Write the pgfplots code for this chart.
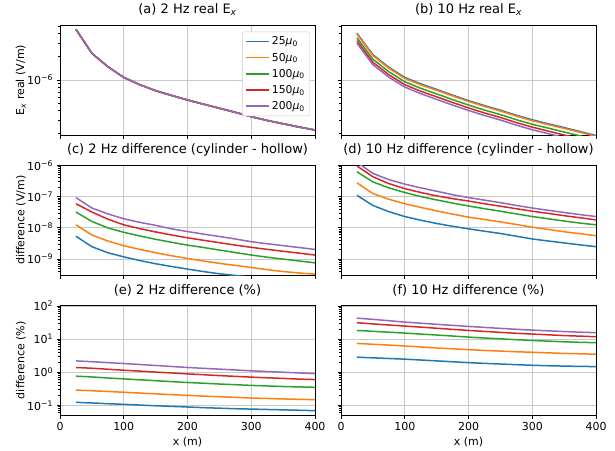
\documentclass[border=0pt]{standalone}
\usepackage{fontspec}
\setmainfont{DejaVu Sans}
\usepackage{pgfplots}
\usepackage{pgfplotstable}
\pgfplotsset{compat=1.18}

\definecolor{c0}{HTML}{1F77B4}
\definecolor{c1}{HTML}{FF7F0E}
\definecolor{c2}{HTML}{2CA02C}
\definecolor{c3}{HTML}{D62728}
\definecolor{c4}{HTML}{9467BD}
\definecolor{gridgray}{HTML}{C8C8C8}

% 2 Hz real Ex (all permeabilities overlap)
\pgfplotstableread{
x v
25 4.55e-6
50 2.22e-6
75 1.49e-6
100 1.08e-6
125 8.7e-7
150 7.26e-7
175 6.3e-7
200 5.5e-7
225 4.85e-7
250 4.3e-7
275 3.8e-7
300 3.34e-7
325 2.98e-7
350 2.7e-7
375 2.45e-7
400 2.24e-7
}\realA

% 10 Hz real Ex
\pgfplotstableread{
x m25 m50 m100 m150 m200
25 4.05e-6 3.95e-6 3.54e-6 3.24e-6 3.0e-6
50 2.13e-6 2.07e-6 1.86e-6 1.7e-6 1.58e-6
75 1.46e-6 1.42e-6 1.28e-6 1.17e-6 1.09e-6
100 1.08e-6 1.05e-6 9.5e-7 8.7e-7 8.1e-7
125 8.9e-7 8.65e-7 7.8e-7 7.15e-7 6.65e-7
150 7.55e-7 7.35e-7 6.6e-7 6.05e-7 5.6e-7
175 6.35e-7 6.2e-7 5.56e-7 5.1e-7 4.72e-7
200 5.4e-7 5.27e-7 4.73e-7 4.34e-7 4.02e-7
225 4.65e-7 4.53e-7 4.07e-7 3.73e-7 3.46e-7
250 4.05e-7 3.95e-7 3.55e-7 3.26e-7 3.02e-7
275 3.48e-7 3.4e-7 3.05e-7 2.8e-7 2.59e-7
300 3.04e-7 2.96e-7 2.66e-7 2.44e-7 2.26e-7
325 2.7e-7 2.63e-7 2.37e-7 2.17e-7 2.01e-7
350 2.41e-7 2.35e-7 2.11e-7 1.93e-7 1.79e-7
375 2.14e-7 2.09e-7 1.88e-7 1.72e-7 1.6e-7
400 1.9e-7 1.85e-7 1.66e-7 1.52e-7 1.41e-7
}\realB

% 2 Hz difference (V/m)
\pgfplotstableread{
x m25 m50 m100 m150 m200
25 5.4e-9 1.25e-8 3.2e-8 5.9e-8 9.3e-8
50 2.5e-9 5.9e-9 1.6e-8 3.2e-8 4.3e-8
75 1.6e-9 3.8e-9 1.0e-8 1.9e-8 2.8e-8
100 1.18e-9 2.68e-9 7.2e-9 1.25e-8 1.95e-8
125 9.0e-10 2.05e-9 5.5e-9 9.4e-9 1.5e-8
150 7.1e-10 1.6e-9 4.3e-9 7.4e-9 1.2e-8
175 5.8e-10 1.28e-9 3.45e-9 5.9e-9 9.3e-9
200 4.8e-10 1.05e-9 2.8e-9 4.8e-9 7.6e-9
225 4.0e-10 8.7e-10 2.35e-9 4.0e-9 6.3e-9
250 3.4e-10 7.3e-10 1.95e-9 3.35e-9 5.3e-9
275 3.0e-10 6.3e-10 1.62e-9 2.8e-9 4.4e-9
300 2.65e-10 5.4e-10 1.35e-9 2.38e-9 3.6e-9
325 2.35e-10 4.6e-10 1.15e-9 2.05e-9 3.1e-9
350 2.1e-10 4.0e-10 1.0e-9 1.78e-9 2.7e-9
375 1.9e-10 3.6e-10 8.7e-10 1.55e-9 2.35e-9
400 1.7e-10 3.3e-10 7.6e-10 1.35e-9 2.04e-9
}\diffC

% 10 Hz difference (V/m)
\pgfplotstableread{
x m25 m50 m100 m150 m200
25 1.1e-7 2.75e-7 6.2e-7 9.5e-7 1.25e-6
50 5.2e-8 1.25e-7 2.95e-7 4.3e-7 5.5e-7
75 3.3e-8 8.2e-8 1.9e-7 2.6e-7 3.5e-7
100 2.3e-8 5.9e-8 1.35e-7 1.8e-7 2.5e-7
125 1.75e-8 4.5e-8 1.0e-7 1.35e-7 1.9e-7
150 1.38e-8 3.5e-8 7.8e-8 1.05e-7 1.48e-7
175 1.12e-8 2.75e-8 6.2e-8 8.6e-8 1.15e-7
200 9.3e-9 2.2e-8 5.0e-8 7.2e-8 9.3e-8
225 7.8e-9 1.85e-8 4.1e-8 5.9e-8 7.7e-8
250 6.6e-9 1.55e-8 3.4e-8 4.9e-8 6.4e-8
275 5.4e-9 1.28e-8 2.8e-8 4.1e-8 5.2e-8
300 4.4e-9 1.05e-8 2.3e-8 3.4e-8 4.3e-8
325 3.8e-9 8.9e-9 1.95e-8 2.9e-8 3.65e-8
350 3.3e-9 7.5e-9 1.65e-8 2.45e-8 3.1e-8
375 2.85e-9 6.5e-9 1.42e-8 2.1e-8 2.65e-8
400 2.5e-9 5.6e-9 1.25e-8 1.8e-8 2.3e-8
}\diffD

% 2 Hz difference (%)
\pgfplotstableread{
x m25 m50 m100 m150 m200
25 0.123 0.29 0.76 1.39 2.2
50 0.118 0.276 0.72 1.32 2.08
75 0.112 0.262 0.67 1.23 1.95
100 0.107 0.248 0.63 1.15 1.83
125 0.102 0.235 0.59 1.08 1.71
150 0.097 0.222 0.555 1.01 1.6
175 0.093 0.21 0.52 0.95 1.49
200 0.089 0.20 0.49 0.89 1.39
225 0.085 0.19 0.465 0.84 1.31
250 0.082 0.182 0.44 0.79 1.24
275 0.079 0.174 0.42 0.75 1.17
300 0.077 0.166 0.40 0.71 1.1
325 0.075 0.161 0.385 0.68 1.05
350 0.073 0.156 0.37 0.65 1.0
375 0.071 0.152 0.36 0.62 0.95
400 0.069 0.148 0.35 0.60 0.91
}\pctE

% 10 Hz difference (%)
\pgfplotstableread{
x m25 m50 m100 m150 m200
25 2.85 7.4 18.3 31.3 43
50 2.72 7.0 17.2 28.8 39.5
75 2.6 6.6 16.2 26.7 36
100 2.48 6.2 15.2 24.8 32.7
125 2.34 5.8 14.2 23 30.3
150 2.2 5.4 13.3 21.3 28
175 2.07 5.1 12.4 19.7 26
200 1.95 4.8 11.5 18.3 24.2
225 1.85 4.55 10.8 17.1 22.6
250 1.77 4.35 10.2 16 21.1
275 1.69 4.15 9.6 15 19.8
300 1.62 4.0 9.1 14.2 18.7
325 1.57 3.85 8.7 13.5 17.8
350 1.53 3.7 8.3 12.8 16.9
375 1.5 3.6 8.0 12.3 16.2
400 1.48 3.5 7.8 11.8 15.6
}\pctF

% shared look of all six panels (plain axis keys only)
\pgfplotsset{
  every axis/.append style={
    width=255pt, height=109.7pt, scale only axis,
    xmin=0, xmax=400,
    xtick={0,100,200,300,400},
    grid=major, grid style={draw=gridgray, line width=0.8pt},
    axis line style={line width=0.8pt},
    tick align=outside, tick pos=left,
    major tick length=3.5pt, minor tick length=2pt,
    tick style={black, line width=0.7pt},
    tick label style={font=\fontsize{11}{13}\selectfont},
    every axis label/.append style={font=\fontsize{11}{13}\selectfont},
    every axis title/.append style={font=\fontsize{13}{15.6}\selectfont},
    every axis y label/.append style={at={(axis description cs:-0.12,0.5)}, anchor=south},
  },
}

\begin{document}
\begin{tikzpicture}
\path (0,0) rectangle (615pt,-445pt);

% (a)
\begin{axis}[ymode=log, anchor=north west, at={(60pt,-25.3pt)},
  ymin=1.93e-7, ymax=5.13e-6, ytick={1e-6},
  minor ytick={2e-7,3e-7,4e-7,5e-7,6e-7,7e-7,8e-7,9e-7,2e-6,3e-6,4e-6,5e-6},
  xticklabels={},
  title={(a) 2 Hz real E\textsubscript{\itshape x}},
  ylabel={E\textsubscript{\itshape x} real (V/m)},
  yticklabels={10\textsuperscript{−6}},
  legend cell align=left,
  legend style={at={(0.98,0.942)}, anchor=north east,
    draw=black!20, fill=white, rounded corners=2pt,
    inner xsep=3pt, inner ysep=3pt, row sep=2.6pt,
    font=\fontsize{10.8}{13}\selectfont},
  legend image code/.code={\draw[#1, line width=1.5pt] (0pt,0pt) -- (23pt,0pt);},
]
\addplot[c0, line width=1.5pt] table[x=x, y=v] {\realA};
\addplot[c1, line width=1.5pt] table[x=x, y=v] {\realA};
\addplot[c2, line width=1.5pt] table[x=x, y=v] {\realA};
\addplot[c3, line width=1.5pt] table[x=x, y=v] {\realA};
\addplot[c4, line width=1.5pt] table[x=x, y=v] {\realA};
\legend{25\textit{μ}\textsubscript{0}, 50\textit{μ}\textsubscript{0}, 100\textit{μ}\textsubscript{0}, 150\textit{μ}\textsubscript{0}, 200\textit{μ}\textsubscript{0}}
\end{axis}

% (b)
\begin{axis}[ymode=log, anchor=north west, at={(341pt,-25.3pt)},
  ymin=1.93e-7, ymax=5.13e-6, ytick={1e-6},
  minor ytick={2e-7,3e-7,4e-7,5e-7,6e-7,7e-7,8e-7,9e-7,2e-6,3e-6,4e-6,5e-6},
  xticklabels={}, yticklabels={},
  title={(b) 10 Hz real E\textsubscript{\itshape x}},
]
\addplot[c0, line width=1.5pt] table[x=x, y=m25] {\realB};
\addplot[c1, line width=1.5pt] table[x=x, y=m50] {\realB};
\addplot[c2, line width=1.5pt] table[x=x, y=m100] {\realB};
\addplot[c3, line width=1.5pt] table[x=x, y=m150] {\realB};
\addplot[c4, line width=1.5pt] table[x=x, y=m200] {\realB};
\end{axis}

% (c)
\begin{axis}[ymode=log, anchor=north west, at={(60pt,-165.3pt)},
  ymin=3.1e-10, ymax=1e-6, ytick={1e-9,1e-8,1e-7,1e-6},
  minor ytick={4e-10,5e-10,6e-10,7e-10,8e-10,9e-10,2e-9,3e-9,4e-9,5e-9,6e-9,7e-9,8e-9,9e-9,2e-8,3e-8,4e-8,5e-8,6e-8,7e-8,8e-8,9e-8,2e-7,3e-7,4e-7,5e-7,6e-7,7e-7,8e-7,9e-7},
  xticklabels={},
  title={(c) 2 Hz difference (cylinder - hollow)},
  ylabel={difference (V/m)},
  yticklabels={10\textsuperscript{−9}, 10\textsuperscript{−8}, 10\textsuperscript{−7}, 10\textsuperscript{−6}},
]
\addplot[c0, line width=1.5pt] table[x=x, y=m25] {\diffC};
\addplot[c1, line width=1.5pt] table[x=x, y=m50] {\diffC};
\addplot[c2, line width=1.5pt] table[x=x, y=m100] {\diffC};
\addplot[c3, line width=1.5pt] table[x=x, y=m150] {\diffC};
\addplot[c4, line width=1.5pt] table[x=x, y=m200] {\diffC};
\end{axis}

% (d)
\begin{axis}[ymode=log, anchor=north west, at={(341pt,-165.3pt)},
  ymin=3.1e-10, ymax=1e-6, ytick={1e-9,1e-8,1e-7,1e-6},
  minor ytick={4e-10,5e-10,6e-10,7e-10,8e-10,9e-10,2e-9,3e-9,4e-9,5e-9,6e-9,7e-9,8e-9,9e-9,2e-8,3e-8,4e-8,5e-8,6e-8,7e-8,8e-8,9e-8,2e-7,3e-7,4e-7,5e-7,6e-7,7e-7,8e-7,9e-7},
  xticklabels={}, yticklabels={},
  title={(d) 10 Hz difference (cylinder - hollow)},
]
\addplot[c0, line width=1.5pt] table[x=x, y=m25] {\diffD};
\addplot[c1, line width=1.5pt] table[x=x, y=m50] {\diffD};
\addplot[c2, line width=1.5pt] table[x=x, y=m100] {\diffD};
\addplot[c3, line width=1.5pt] table[x=x, y=m150] {\diffD};
\addplot[c4, line width=1.5pt] table[x=x, y=m200] {\diffD};
\end{axis}

% (e)
\begin{axis}[ymode=log, anchor=north west, at={(60pt,-305.3pt)},
  ymin=0.051, ymax=105, ytick={0.1,1,10,100},
  minor ytick={0.06,0.07,0.08,0.09,0.2,0.3,0.4,0.5,0.6,0.7,0.8,0.9,2,3,4,5,6,7,8,9,20,30,40,50,60,70,80,90},
  xticklabels={0,100,200,300,400}, xlabel={x (m)},
  title={(e) 2 Hz difference (\%)},
  ylabel={difference (\%)},
  yticklabels={10\textsuperscript{−1}, 10\textsuperscript{0}, 10\textsuperscript{1}, 10\textsuperscript{2}},
]
\addplot[c0, line width=1.5pt] table[x=x, y=m25] {\pctE};
\addplot[c1, line width=1.5pt] table[x=x, y=m50] {\pctE};
\addplot[c2, line width=1.5pt] table[x=x, y=m100] {\pctE};
\addplot[c3, line width=1.5pt] table[x=x, y=m150] {\pctE};
\addplot[c4, line width=1.5pt] table[x=x, y=m200] {\pctE};
\end{axis}

% (f)
\begin{axis}[ymode=log, anchor=north west, at={(341pt,-305.3pt)},
  ymin=0.051, ymax=105, ytick={0.1,1,10,100},
  minor ytick={0.06,0.07,0.08,0.09,0.2,0.3,0.4,0.5,0.6,0.7,0.8,0.9,2,3,4,5,6,7,8,9,20,30,40,50,60,70,80,90},
  xticklabels={0,100,200,300,400}, xlabel={x (m)}, yticklabels={},
  title={(f) 10 Hz difference (\%)},
]
\addplot[c0, line width=1.5pt] table[x=x, y=m25] {\pctF};
\addplot[c1, line width=1.5pt] table[x=x, y=m50] {\pctF};
\addplot[c2, line width=1.5pt] table[x=x, y=m100] {\pctF};
\addplot[c3, line width=1.5pt] table[x=x, y=m150] {\pctF};
\addplot[c4, line width=1.5pt] table[x=x, y=m200] {\pctF};
\end{axis}
\end{tikzpicture}
\end{document}
